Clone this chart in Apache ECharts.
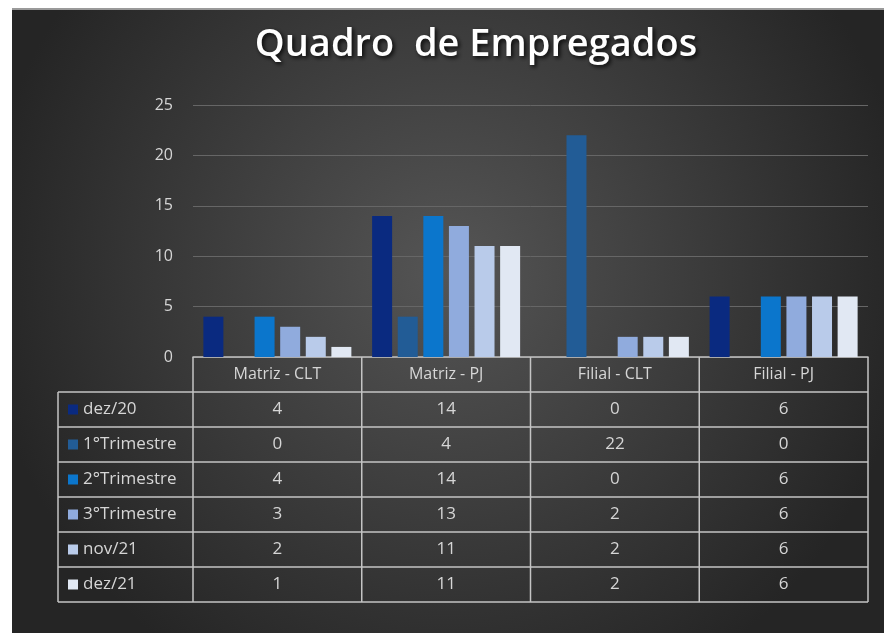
<!DOCTYPE html>
<html lang="pt">
<head>
<meta charset="UTF-8">
<title>Quadro de Empregados</title>
<script src="https://cdn.jsdelivr.net/npm/echarts@6/dist/echarts.min.js"></script>
<style>
    body { margin: 0; background: #ffffff; }
    #chart { width: 884px; height: 633px; }
</style>
</head>
<body>
<div id="chart"></div>
<script>
    // dados
    var categories = ['Matriz - CLT', 'Matriz - PJ', 'Filial - CLT', 'Filial - PJ'];
    var seriesNames = ['dez/20', '1°Trimestre', '2°Trimestre', '3°Trimestre', 'nov/21', 'dez/21'];
    var dez20 = [4, 14, 0, 6];
    var trim1 = [0, 4, 22, 0];
    var trim2 = [4, 14, 0, 6];
    var trim3 = [3, 13, 2, 6];
    var nov21 = [2, 11, 2, 6];
    var dez21 = [1, 11, 2, 6];
    var yMax = 25;
    var yStep = 5;

    var values = [dez20, trim1, trim2, trim3, nov21, dez21];
    var colors = ['#0a2a80', '#225c96', '#0b76cc', '#90abdd', '#b9cbea', '#e1e8f3'];

    var gridLeft = 193, gridRight = 16, gridTop = 105, gridBottom = 276;
    var rowH = 35, labelColLeft = 58;
    var lineColor = '#c4c4c4';
    var textColor = '#d6d6d6';
    var font = '"Open Sans", sans-serif';

    var chart = echarts.init(document.getElementById('chart'));

    var series = [];
    for (var i = 0; i < seriesNames.length; i++) {
        series.push({
            name: seriesNames[i],
            type: 'bar',
            data: values[i],
            barWidth: 20,
            barGap: '28%',
            itemStyle: { color: colors[i] }
        });
    }

    chart.setOption({
        animation: false,
        title: {
            text: 'Quadro  de Empregados',
            left: 471,
            textAlign: 'center',
            top: 21,
            textStyle: {
                color: '#ffffff',
                fontFamily: font,
                fontSize: 38,
                fontWeight: 600,
                textShadowColor: 'rgba(0,0,0,0.85)',
                textShadowBlur: 4,
                textShadowOffsetX: 2,
                textShadowOffsetY: 2
            }
        },
        grid: { left: gridLeft, right: gridRight, top: gridTop, bottom: gridBottom },
        xAxis: {
            type: 'category',
            data: categories,
            axisLine: { lineStyle: { color: lineColor, width: 1.5 } },
            axisTick: { show: false },
            axisLabel: { color: textColor, fontFamily: font, fontSize: 16, margin: 9 }
        },
        yAxis: {
            type: 'value',
            min: 0,
            max: yMax,
            interval: yStep,
            axisLine: { show: false },
            axisTick: { show: false },
            axisLabel: { color: textColor, fontFamily: font, fontSize: 16, margin: 20 },
            splitLine: { lineStyle: { color: '#666666', width: 1 } }
        },
        series: series
    });

    // tabela de dados
    var W = 884, H = 633;
    var x0 = gridLeft, x1 = W - gridRight, yTop = H - gridBottom;
    var colW = (x1 - x0) / categories.length;
    var yHead = yTop + rowH;
    var yEnd = yHead + rowH * seriesNames.length;
    var g = [];

    g.push({
        type: 'rect', z: -10, silent: true,
        shape: { x: 12, y: 9, width: W - 12, height: H - 9 },
        style: {
            fill: new echarts.graphic.RadialGradient(0.5, 0.42, 0.75, [
                { offset: 0, color: '#555555' },
                { offset: 1, color: '#252525' }
            ])
        }
    });
    g.push({
        type: 'rect', z: -9, silent: true,
        shape: { x: 12, y: 8, width: W - 12, height: 2 },
        style: { fill: '#9a9a9a' }
    });

    function hline(y, xa) {
        g.push({ type: 'line', shape: { x1: xa, y1: y, x2: x1, y2: y }, style: { stroke: lineColor, lineWidth: 1.5 } });
    }
    function vline(x, ya) {
        g.push({ type: 'line', shape: { x1: x, y1: ya, x2: x, y2: yEnd }, style: { stroke: lineColor, lineWidth: 1.5 } });
    }
    for (var r = 0; r <= seriesNames.length; r++) hline(yHead + r * rowH, labelColLeft);
    vline(labelColLeft, yHead);
    for (var c = 0; c <= categories.length; c++) vline(x0 + c * colW, yTop);

    for (var r = 0; r < seriesNames.length; r++) {
        var cy = yHead + r * rowH + rowH / 2;
        g.push({ type: 'rect', shape: { x: labelColLeft + 10, y: cy - 5, width: 10, height: 10 }, style: { fill: colors[r] } });
        g.push({
            type: 'text', x: labelColLeft + 25, y: cy,
            style: { text: seriesNames[r], fill: textColor, font: '17px ' + font, verticalAlign: 'middle' }
        });
        for (var c = 0; c < categories.length; c++) {
            var cx = chart.convertToPixel({ xAxisIndex: 0 }, c);
            g.push({
                type: 'text', x: cx, y: cy,
                style: { text: String(values[r][c]), fill: textColor, font: '17px ' + font, align: 'center', verticalAlign: 'middle' }
            });
        }
    }

    chart.setOption({ graphic: g });
</script>
</body>
</html>
